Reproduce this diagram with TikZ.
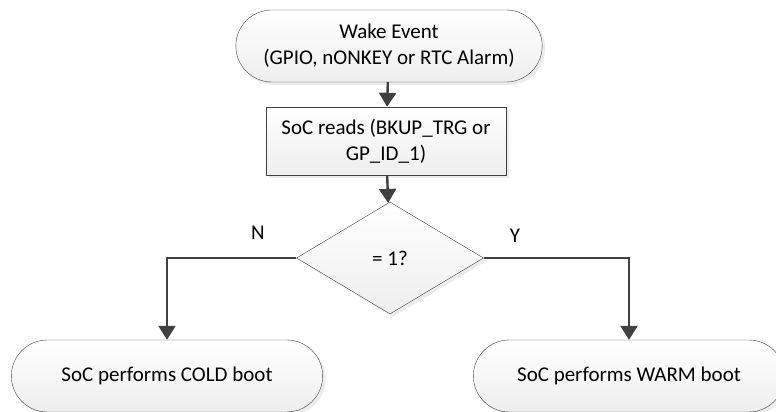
\documentclass[tikz,border=0pt]{standalone}
\usepackage{fontspec}
\setmainfont{Carlito}
\usetikzlibrary{shapes.geometric, shapes.misc, arrows.meta, shadows}

\definecolor{edgegray}{HTML}{404040}
\definecolor{fillgray}{HTML}{EEEEEE}

\tikzset{
  base/.style={draw=edgegray, thin, top color=white, bottom color=fillgray,
    drop shadow={shadow xshift=3pt, shadow yshift=-3pt, fill=black!15},
    align=center, font=\fontsize{21}{26}\selectfont},
  term/.style={base, rounded rectangle, minimum height=72pt},
  stepbox/.style={base, rectangle, minimum width=240pt, minimum height=68pt},
  test/.style={base, diamond, inner sep=0pt, minimum width=187pt, minimum height=112pt},
  flow/.style={draw=edgegray, line width=2.4pt, -{Triangle[width=17pt,length=14pt]}},
  tag/.style={font=\fontsize{21}{26}\selectfont}
}

\begin{document}
\begin{tikzpicture}[x=1pt, y=1pt]

    \useasboundingbox (0,0) rectangle (776,412);

    \node[term, minimum width=313pt] (wake) at (389,366) {Wake Event\\(GPIO, nONKEY or RTC Alarm)};

    \node[stepbox] (reads) at (386,271) {SoC reads (BKUP\_TRG or\\GP\_ID\_1)};

    \node[test] (check) at (390,154) {= 1?};

    \node[term, minimum width=318pt] (cold) at (167,36) {SoC performs COLD boot};

    \node[term, minimum width=318pt] (warm) at (629,36) {SoC performs WARM boot};


    \draw[flow] (wake) -- (reads);

    \draw[flow] (reads) -- (check);

    \draw[flow] (check.west) -| (cold.north);

    \draw[flow] (check.east) -| (warm.north);


    \node[tag] (no) at (258,179) {N};

    \node[tag] (yes) at (515,176) {Y};

  \end{tikzpicture}
\end{document}
